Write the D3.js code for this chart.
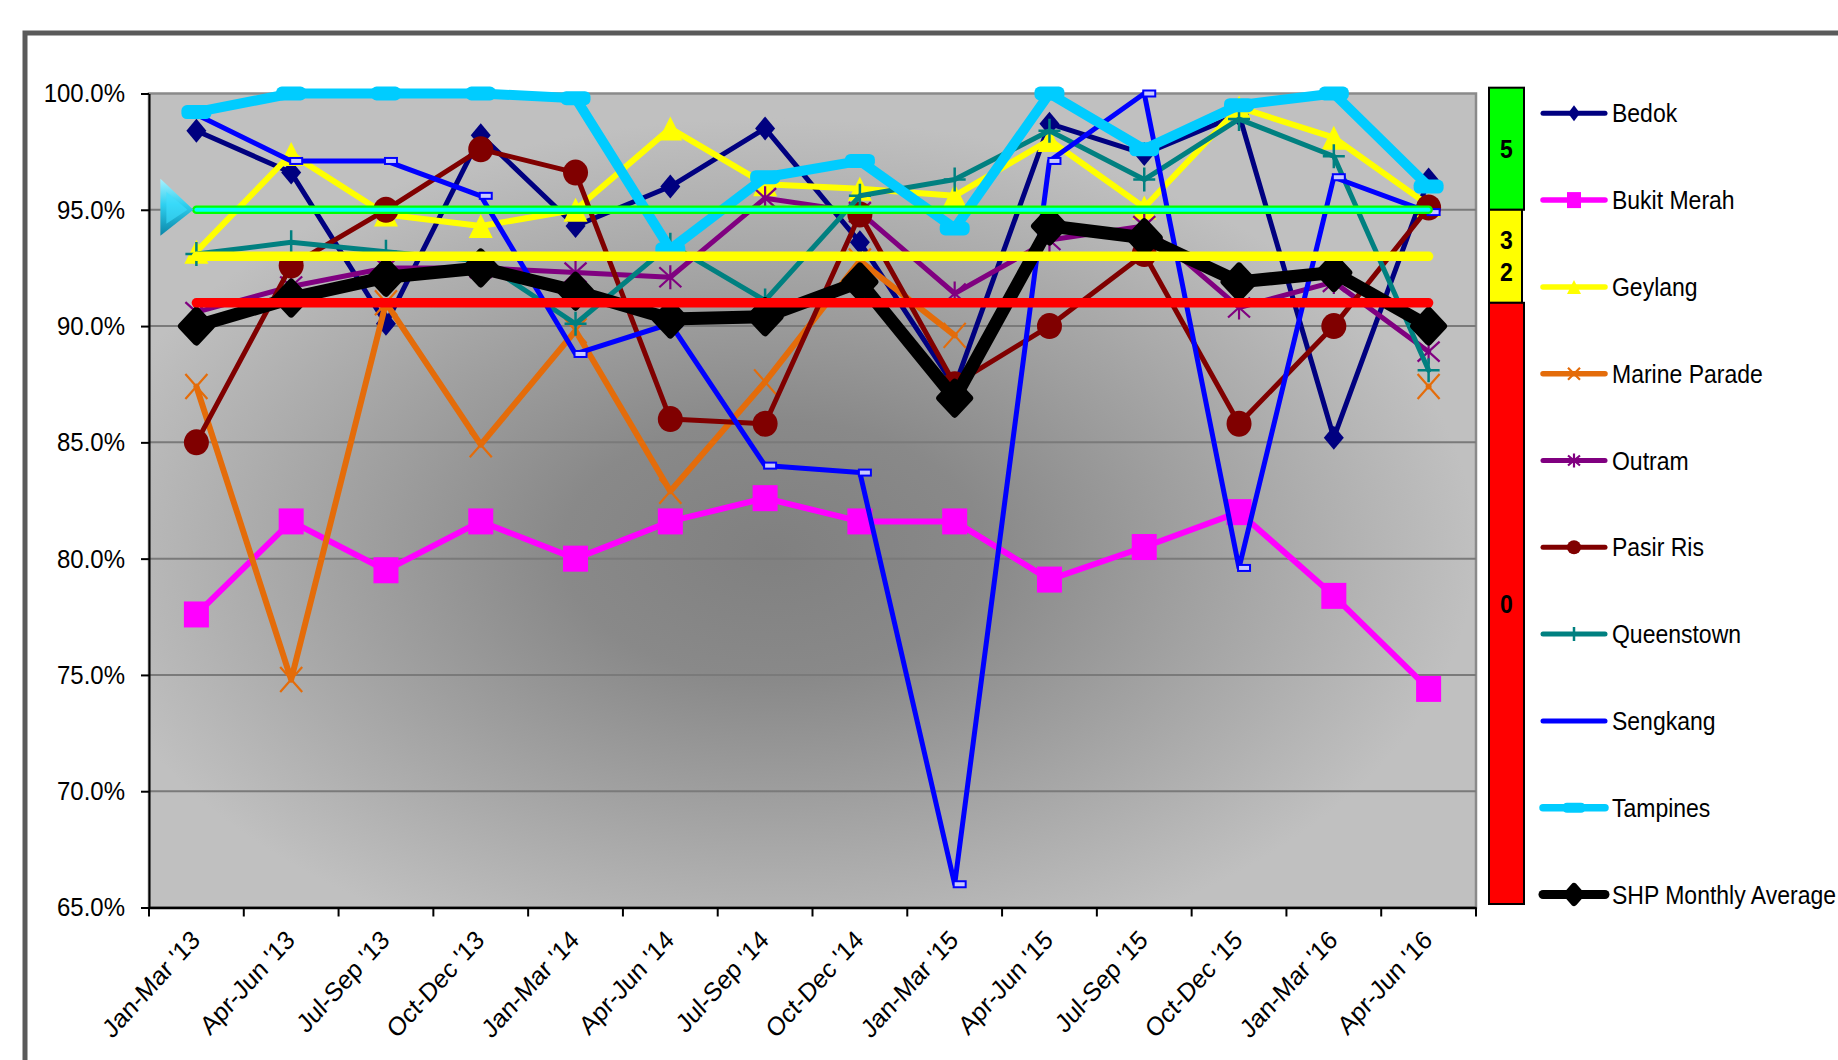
<!DOCTYPE html>
<html>
<head>
<meta charset="utf-8">
<script src="https://cdn.jsdelivr.net/npm/d3@7/dist/d3.min.js"></script>
<style>
  html, body { margin: 0; padding: 0; background: #ffffff; }
  svg { display: block; font-family: "Liberation Sans", Arial, sans-serif; }
</style>
</head>
<body>
<svg id="chart" width="1838" height="1060"></svg>
<script>
// Quarterly categories
const categories = ["Jan-Mar '13", "Apr-Jun '13", "Jul-Sep '13", "Oct-Dec '13", "Jan-Mar '14", "Apr-Jun '14",
  "Jul-Sep '14", "Oct-Dec '14", "Jan-Mar '15", "Apr-Jun '15", "Jul-Sep '15", "Oct-Dec '15", "Jan-Mar '16", "Apr-Jun '16"];

// Town series (percent)
const bedok        = [98.4, 96.6, 90.1, 98.2, 94.3, 96.0, 98.5, 93.6, 87.4, 98.7, 97.4, 99.1, 85.2, 96.3];
const bukitMerah   = [77.6, 81.6, 79.5, 81.6, 80.0, 81.6, 82.6, 81.6, 81.6, 79.1, 80.5, 82.0, 78.4, 74.4];
const geylang      = [93.2, 97.4, 94.8, 94.3, 95.0, 98.5, 96.1, 95.9, 95.6, 98.0, 95.1, 99.4, 98.1, 95.2];
const marineParade = [87.4, 74.8, 91.0, 84.9, 89.8, 82.9, 87.6, 92.8, 89.6, null, null, null, null, 87.4];
const outram       = [90.6, 91.7, 92.5, 92.5, 92.3, 92.1, 95.5, 94.9, 91.4, 93.7, 94.3, 90.8, 91.9, 88.9];
const pasirRis     = [85.0, 92.6, 95.0, 97.6, 96.6, 86.0, 85.8, 94.8, 87.5, 90.0, 93.1, 85.8, 90.0, 95.1];
const queenstown   = [93.1, 93.6, 93.2, 92.8, 90.1, 93.5, 91.1, 95.6, 96.3, 98.4, 96.3, 98.9, 97.3, 88.1];
const sengkang     = [99.1, 97.1, 97.1, 95.6, 88.8, 90.1, 84.0, 83.7, 66.0, 97.1, 100.0, 79.6, 96.4, 94.9];
const tampines     = [99.2, 100.0, 100.0, 100.0, 99.8, 93.3, 96.4, 97.1, 94.2, 100.0, 97.6, 99.5, 100.0, 96.0];
const shpAverage   = [90.0, 91.2, 92.1, 92.5, 91.5, 90.3, 90.4, 91.9, 86.9, 94.3, 93.8, 91.9, 92.3, 90.0];

// Target lines (percent)
const targetLevels = [95, 93, 91];

// Rating band beside the plot: score and percent range
const bandScores = ["5", "3\n2", "0"];
const bandFrom   = [95, 91, 65.15];
const bandTo     = [100.25, 95, 91];

// Y axis ticks
const yTicks = [65, 70, 75, 80, 85, 90, 95, 100];

const seriesNames = ["Bedok", "Bukit Merah", "Geylang", "Marine Parade", "Outram", "Pasir Ris",
  "Queenstown", "Sengkang", "Tampines", "SHP Monthly Average"];
const seriesValues = [bedok, bukitMerah, geylang, marineParade, outram, pasirRis,
  queenstown, sengkang, tampines, shpAverage];

// ---- styles ----
const styles = {
  "Bedok":               { color: "#000080", width: 5,   marker: "diamond",  mw: 20, mh: 24 },
  "Bukit Merah":         { color: "#ff00ff", width: 6,   marker: "square",   mw: 25, mh: 26 },
  "Geylang":             { color: "#ffff00", width: 6,   marker: "triangle", mw: 24, mh: 24 },
  "Marine Parade":       { color: "#e46c0a", width: 6,   marker: "x",        mw: 22, mh: 25 },
  "Outram":              { color: "#800080", width: 5,   marker: "star",     mw: 22, mh: 20 },
  "Pasir Ris":           { color: "#800000", width: 5,   marker: "circle",   mw: 25, mh: 26 },
  "Queenstown":          { color: "#008080", width: 5,   marker: "plus",     mw: 22, mh: 24 },
  "Sengkang":            { color: "#0000ff", width: 5,   marker: "tab",      mw: 12, mh: 6 },
  "Tampines":            { color: "#00ccff", width: 10,  marker: "pill",     mw: 30, mh: 14 },
  "SHP Monthly Average": { color: "#000000", width: 13,  marker: "bigdiamond", mw: 30, mh: 32 }
};
const targetColors = ["#00ff00", "#ffff00", "#ff0000"];
const textStretch = "scale(1,1.1)";

const svg = d3.select("#chart");
const plot = { left: 149, right: 1476, top: 93.5, bottom: 907.5 };

const x = d3.scaleBand().domain(categories).range([plot.left, plot.right]).paddingInner(0).paddingOuter(0);
const cx = c => x(c) + x.bandwidth() / 2;
const y = d3.scaleLinear().domain([65, 100]).range([plot.bottom, plot.top]);

const defs = svg.append("defs");
const shade = defs.append("radialGradient").attr("id", "plotShade")
  .attr("cx", 0.47).attr("cy", 0.56).attr("r", 0.53);
shade.append("stop").attr("offset", 0).attr("stop-color", "#808080");
shade.append("stop").attr("offset", 0.3).attr("stop-color", "#898989");
shade.append("stop").attr("offset", 1).attr("stop-color", "#c0c0c0");

const arrowFill = defs.append("linearGradient").attr("id", "arrowFill")
  .attr("x1", 0).attr("y1", 0).attr("x2", 0).attr("y2", 1);
arrowFill.append("stop").attr("offset", 0).attr("stop-color", "#a8f2ff");
arrowFill.append("stop").attr("offset", 0.45).attr("stop-color", "#2fd0f0");
arrowFill.append("stop").attr("offset", 1).attr("stop-color", "#0a86a8");

// outer chart frame
svg.append("rect").attr("x", 25).attr("y", 33).attr("width", 2000).attr("height", 2000)
  .attr("fill", "none").attr("stroke", "#5a5a5a").attr("stroke-width", 5);

// plot background
svg.append("rect")
  .attr("x", plot.left).attr("y", plot.top)
  .attr("width", plot.right - plot.left).attr("height", plot.bottom - plot.top)
  .attr("fill", "url(#plotShade)").attr("stroke", "#8a8a8a").attr("stroke-width", 2.5);

// gridlines
svg.append("g").selectAll("line").data(yTicks.filter(t => t > 65 && t < 100)).join("line")
  .attr("x1", plot.left).attr("x2", plot.right)
  .attr("y1", d => y(d)).attr("y2", d => y(d))
  .attr("stroke", "#7a7a7a").attr("stroke-width", 2);

// axes
const yAxis = d3.axisLeft(y).tickValues(yTicks).tickFormat(d => d.toFixed(1) + "%")
  .tickSizeInner(8).tickSizeOuter(0).tickPadding(16);
const gy = svg.append("g").attr("transform", `translate(${plot.left},0)`).call(yAxis);
gy.select(".domain").attr("stroke", "#000").attr("stroke-width", 2);
gy.selectAll(".tick line").attr("stroke", "#000").attr("stroke-width", 2);
gy.selectAll(".tick text").attr("font-size", 24).attr("fill", "#000")
  .attr("font-family", "'Liberation Sans', Arial, sans-serif")
  .attr("transform", textStretch);

const xAxis = d3.axisBottom(x).tickSize(0).tickSizeOuter(0);
const gx = svg.append("g").attr("transform", `translate(0,${plot.bottom})`).call(xAxis);
gx.select(".domain").attr("stroke", "#000").attr("stroke-width", 2.5);
gx.selectAll(".tick text")
  .attr("font-size", 24).attr("fill", "#000")
  .attr("font-family", "'Liberation Sans', Arial, sans-serif")
  .attr("text-anchor", "end")
  .attr("dy", 0).attr("y", 0)
  .attr("transform", `translate(5,34) ${textStretch} rotate(-45)`);
// boundary ticks between categories
const boundaries = categories.map(c => x(c)).concat([plot.right]);
gx.append("g").selectAll("line").data(boundaries).join("line")
  .attr("x1", d => d).attr("x2", d => d).attr("y1", 0).attr("y2", 9)
  .attr("stroke", "#000").attr("stroke-width", 2);

// marker drawing
function drawMarker(g, type, w, h, color) {
  const hw = w / 2, hh = h / 2;
  switch (type) {
    case "diamond":
      g.append("path").attr("d", `M0,${-hh}L${hw},0L0,${hh}L${-hw},0Z`).attr("fill", color);
      break;
    case "bigdiamond":
      g.append("path").attr("d", `M0,${-hh}L${hw},0L0,${hh}L${-hw},0Z`).attr("fill", color)
        .attr("stroke", color).attr("stroke-width", 7).attr("stroke-linejoin", "round");
      break;
    case "square":
      g.append("rect").attr("x", -hw).attr("y", -hh).attr("width", w).attr("height", h).attr("fill", color);
      break;
    case "triangle":
      g.append("path").attr("d", `M0,${-hh}L${hw},${hh}L${-hw},${hh}Z`).attr("fill", color);
      break;
    case "circle":
      g.append("ellipse").attr("rx", hw).attr("ry", hh).attr("fill", color);
      break;
    case "x":
      g.append("path").attr("d", `M${-hw},${-hh}L${hw},${hh}M${hw},${-hh}L${-hw},${hh}`)
        .attr("stroke", color).attr("stroke-width", 2.2).attr("fill", "none");
      break;
    case "star":
      g.append("path").attr("d", `M${-hw},${-hh}L${hw},${hh}M${hw},${-hh}L${-hw},${hh}M0,${-hh - 2}L0,${hh + 2}`)
        .attr("stroke", color).attr("stroke-width", 2.2).attr("fill", "none");
      break;
    case "plus":
      g.append("path").attr("d", `M${-hw},0L${hw},0M0,${-hh}L0,${hh}`)
        .attr("stroke", color).attr("stroke-width", 2.5).attr("fill", "none");
      break;
    case "tab":
      g.append("rect").attr("x", -1).attr("y", -hh).attr("width", w).attr("height", h)
        .attr("fill", "#c9c9ff").attr("stroke", color).attr("stroke-width", 2);
      break;
    case "pill":
      g.append("rect").attr("x", -hw).attr("y", -hh).attr("width", w).attr("height", h)
        .attr("rx", hh * 0.8).attr("fill", color);
      break;
  }
}

// series lines and markers
const line = d3.line().defined(d => d.v != null).x(d => cx(d.c)).y(d => y(d.v));
const seriesLayer = svg.append("g");
seriesNames.forEach((name, i) => {
  const st = styles[name];
  const pts = categories.map((c, j) => ({ c, v: seriesValues[i][j] }));
  const g = seriesLayer.append("g");
  g.append("path").datum(pts).attr("d", line)
    .attr("fill", "none").attr("stroke", st.color).attr("stroke-width", st.width)
    .attr("stroke-linejoin", "round").attr("stroke-linecap", "round");
  pts.filter(d => d.v != null).forEach(d => {
    const mg = g.append("g").attr("transform", `translate(${cx(d.c)},${y(d.v)})`);
    drawMarker(mg, st.marker, st.mw, st.mh, st.color);
  });
});

// target lines
const tLayer = svg.append("g");
const first = categories[0], last = categories[categories.length - 1];
targetLevels.forEach((lvl, i) => {
  if (i === 0) {
    tLayer.append("line").attr("x1", cx(first)).attr("x2", cx(last)).attr("y1", y(lvl)).attr("y2", y(lvl))
      .attr("stroke", targetColors[0]).attr("stroke-width", 8.5).attr("stroke-linecap", "round");
    tLayer.append("line").attr("x1", cx(first)).attr("x2", cx(last)).attr("y1", y(lvl)).attr("y2", y(lvl))
      .attr("stroke", "#00ffff").attr("stroke-width", 4).attr("stroke-linecap", "round");
  } else {
    tLayer.append("line").attr("x1", cx(first)).attr("x2", cx(last)).attr("y1", y(lvl)).attr("y2", y(lvl))
      .attr("stroke", targetColors[i]).attr("stroke-width", 9.5).attr("stroke-linecap", "round");
  }
});

// pointer at the start of the top target line
const tipX = cx(first) - 3, tipY = y(targetLevels[0]);
svg.append("path")
  .attr("d", `M${tipX},${tipY}L${tipX - 33},${tipY - 31}L${tipX - 33},${tipY + 26}Z`)
  .attr("fill", "url(#arrowFill)");
svg.append("path")
  .attr("d", `M${tipX - 6},${tipY}L${tipX - 27},${tipY - 18}L${tipX - 27},${tipY + 14}Z`)
  .attr("fill", "#3fe0ff").attr("opacity", 0.6);

// rating band
const bandX = 1489, bandW = 35;
const bandColors = ["#00ff00", "#ffff00", "#ff0000"];
const bandG = svg.append("g");
bandScores.forEach((s, i) => {
  const y0 = y(bandTo[i]), y1 = y(bandFrom[i]);
  bandG.append("rect").attr("x", bandX).attr("y", y0).attr("width", i === 1 ? bandW - 2 : bandW).attr("height", y1 - y0)
    .attr("fill", bandColors[i]).attr("stroke", "#000").attr("stroke-width", 2);
  const lines = s.split("\n");
  const mid = (y0 + y1) / 2;
  lines.forEach((t, k) => {
    bandG.append("text")
      .attr("transform", `translate(${bandX + bandW / 2},${mid + (k - (lines.length - 1) / 2) * 32}) ${textStretch}`)
      .attr("dy", "0.36em").attr("text-anchor", "middle")
      .attr("font-size", 23).attr("font-weight", "bold").attr("fill", "#000").text(t);
  });
});

// legend
const legend = svg.append("g");
const legendSizes = {
  "Bedok": [12, 16], "Bukit Merah": [14, 16], "Geylang": [14, 14], "Marine Parade": [12, 12],
  "Outram": [12, 10], "Pasir Ris": [14, 14], "Queenstown": [12, 14], "Sengkang": [0, 0],
  "Tampines": [22, 10], "SHP Monthly Average": [14, 16]
};
const legendWidths = {
  "Bedok": 5, "Bukit Merah": 5.5, "Geylang": 5.5, "Marine Parade": 5.5, "Outram": 5, "Pasir Ris": 5,
  "Queenstown": 5, "Sengkang": 5, "Tampines": 7.5, "SHP Monthly Average": 9
};
seriesNames.forEach((name, i) => {
  const st = styles[name];
  const ly = 113.3 + i * 86.8;
  const g = legend.append("g").attr("transform", `translate(0,${ly})`);
  g.append("line").attr("x1", 1543).attr("x2", 1605).attr("y1", 0).attr("y2", 0)
    .attr("stroke", st.color).attr("stroke-width", legendWidths[name]).attr("stroke-linecap", "round");
  if (name !== "Sengkang") {
    const mg = g.append("g").attr("transform", "translate(1574,0)");
    drawMarker(mg, st.marker, legendSizes[name][0], legendSizes[name][1], st.color);
  }
  g.append("text").attr("transform", `translate(1612,0) ${textStretch}`).attr("dy", "0.36em")
    .attr("font-size", 23).attr("fill", "#000").text(name);
});
</script>
</body>
</html>
